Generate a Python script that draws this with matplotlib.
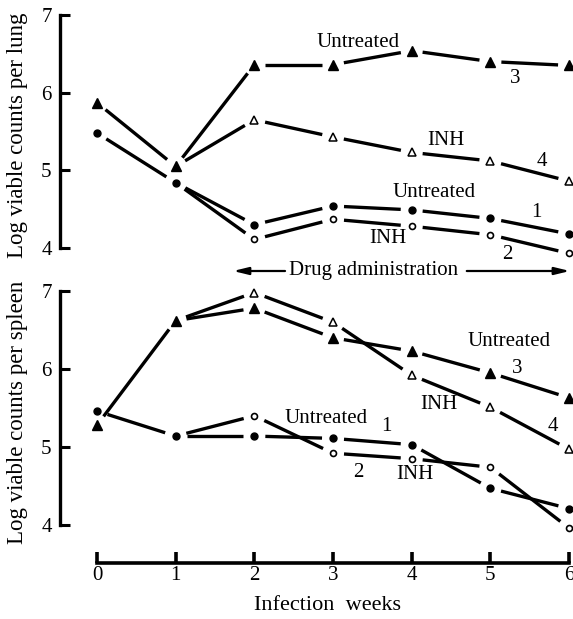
import matplotlib
matplotlib.use("Agg")
import matplotlib.pyplot as plt
import matplotlib.transforms as mtransforms
import numpy as np

plt.rcParams['font.family'] = ['Liberation Serif', 'DejaVu Serif']

weeks = [0, 1, 2, 3, 4, 5, 6]
inh_weeks = [1, 2, 3, 4, 5, 6]

# Lung
lung_untreated_tri = [5.87, 5.05, 6.36, 6.36, 6.54, 6.40, 6.35]   # curve 3
lung_inh_tri = [5.05, 5.65, 5.43, 5.23, 5.12, 4.86]               # curve 4
lung_untreated_dot = [5.48, 4.84, 4.30, 4.54, 4.49, 4.38, 4.18]   # curve 1
lung_inh_dot = [4.84, 4.11, 4.37, 4.28, 4.17, 3.93]               # curve 2

# Spleen
spleen_untreated_tri = [5.28, 6.62, 6.78, 6.40, 6.23, 5.95, 5.63]
spleen_inh_tri = [6.62, 6.98, 6.60, 5.92, 5.51, 4.97]
spleen_untreated_dot = [5.46, 5.14, 5.14, 5.11, 5.03, 4.47, 4.21]
spleen_inh_dot = [5.14, 5.40, 4.92, 4.85, 4.74, 3.96]

yticks = [4, 5, 6, 7]
xticks = [0, 1, 2, 3, 4, 5, 6]

W, H = 573, 619
fig = plt.figure(figsize=(W / 100, H / 100), dpi=100)

def px_axes(left, top, right, bottom):
    return fig.add_axes([left / W, 1 - bottom / H, (right - left) / W, (bottom - top) / H])

ax1 = px_axes(60, 7.2, 573, 263.5)
ax2 = px_axes(60, 283.2, 573, 563.2)
for ax in (ax1, ax2):
    ax.set_xlim(-0.47, 6.05)
ax1.set_ylim(3.8, 7.1)
ax2.set_ylim(3.51, 7.1)

LW = 2.4
FS = 15
GAP = 11  # pixels from marker centre

def seg_line(ax, xs, ys):
    fig.canvas.draw()
    tr = ax.transData
    inv = tr.inverted()
    pts = tr.transform(np.column_stack([xs, ys]))
    for i in range(len(pts) - 1):
        p, q = pts[i], pts[i + 1]
        d = q - p
        L = np.hypot(*d)
        u = d / L
        a = inv.transform(p + u * GAP)
        b = inv.transform(q - u * GAP)
        ax.plot([a[0], b[0]], [a[1], b[1]], color='black', lw=LW,
                solid_capstyle='butt', clip_on=False, zorder=2)

def draw_panel(ax, utri, itri, udot, idot):
    seg_line(ax, weeks, utri)
    seg_line(ax, inh_weeks, itri)
    seg_line(ax, weeks, udot)
    seg_line(ax, inh_weeks, idot)
    ax.plot(weeks, utri, linestyle='none', marker='^', ms=6.5, color='black',
            clip_on=False, zorder=3)
    ax.plot(inh_weeks[1:], itri[1:], linestyle='none', marker='^', ms=5.5,
            mfc='white', mec='black', mew=1.1, clip_on=False, zorder=3)
    ax.plot(weeks, udot, linestyle='none', marker='o', ms=5.0, color='black',
            clip_on=False, zorder=3)
    ax.plot(inh_weeks[1:], idot[1:], linestyle='none', marker='o', ms=4.3,
            mfc='white', mec='black', mew=1.2, clip_on=False, zorder=3)
    for s in ['top', 'right']:
        ax.spines[s].set_visible(False)
    ax.spines['left'].set_linewidth(2.4)
    ax.spines['left'].set_bounds(4, 7)
    ax.set_yticks(yticks)
    ax.set_yticklabels([str(v) for v in yticks])
    ax.tick_params(axis='y', direction='in', length=7, width=2.2, labelsize=FS, pad=6)
    ax.patch.set_alpha(0)

draw_panel(ax1, lung_untreated_tri, lung_inh_tri, lung_untreated_dot, lung_inh_dot)
draw_panel(ax2, spleen_untreated_tri, spleen_inh_tri, spleen_untreated_dot, spleen_inh_dot)

ax1.spines['bottom'].set_visible(False)
ax1.set_xticks([])

ax2.spines['bottom'].set_linewidth(2.6)
ax2.spines['bottom'].set_bounds(0, 6)
ax2.set_xticks(xticks)
ax2.set_xticklabels([str(v) for v in xticks])
ax2.tick_params(axis='x', direction='in', length=8, width=2.6, labelsize=FS, pad=2)

# Curve labels
def lab(ax, x, y, s):
    ax.text(x, y, s, ha='center', va='center', fontsize=FS, clip_on=False)

lab(ax1, 3.32, 6.65, 'Untreated')
lab(ax1, 5.31, 6.18, '3')
lab(ax1, 4.43, 5.39, 'INH')
lab(ax1, 5.65, 5.11, '4')
lab(ax1, 4.29, 4.71, 'Untreated')
lab(ax1, 5.59, 4.46, '1')
lab(ax1, 3.70, 4.12, 'INH')
lab(ax1, 5.22, 3.92, '2')

lab(ax2, 5.24, 6.35, 'Untreated')
lab(ax2, 5.34, 6.01, '3')
lab(ax2, 4.35, 5.54, 'INH')
lab(ax2, 5.79, 5.26, '4')
lab(ax2, 2.91, 5.37, 'Untreated')
lab(ax2, 3.68, 5.26, '1')
lab(ax2, 3.32, 4.67, '2')
lab(ax2, 4.04, 4.65, 'INH')

# Drug administration arrow
ya = 1 - 271 / H
blend = mtransforms.blended_transform_factory(ax1.transData, fig.transFigure)
ax1.text(3.52, ya, 'Drug administration', transform=blend,
         ha='center', va='center', fontsize=FS, clip_on=False)
ap = dict(arrowstyle='-|>,head_length=0.9,head_width=0.22', lw=1.6, color='black',
          shrinkA=0, shrinkB=0)
ax1.annotate('', xy=(1.73, ya), xytext=(2.39, ya), xycoords=('data', 'figure fraction'),
             textcoords=('data', 'figure fraction'), arrowprops=ap, annotation_clip=False)
ax1.annotate('', xy=(6.01, ya), xytext=(4.70, ya), xycoords=('data', 'figure fraction'),
             textcoords=('data', 'figure fraction'), arrowprops=ap, annotation_clip=False)

# Axis labels
fig.text(18 / W, 1 - 135 / H, 'Log viable counts per lung', rotation=90,
         ha='center', va='center', fontsize=16.5)
fig.text(18 / W, 1 - 412 / H, 'Log viable counts per spleen', rotation=90,
         ha='center', va='center', fontsize=16.5)
fig.text(327 / W, 1 - 606 / H, 'Infection  weeks', ha='center', va='center', fontsize=16)

fig.savefig('out.png', dpi=100)
